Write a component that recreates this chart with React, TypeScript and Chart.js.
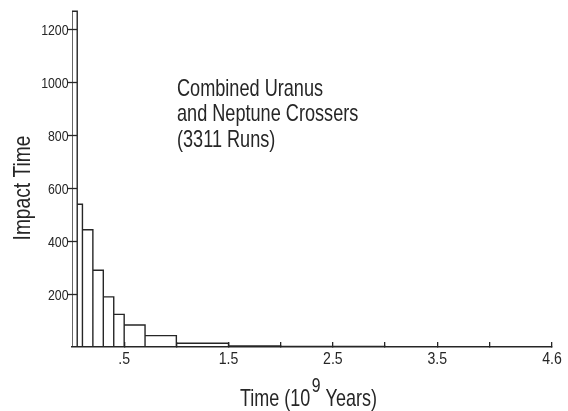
import React, { useEffect, useRef } from "react";
import { Chart, registerables } from "chart.js";

Chart.register(...registerables);

// Histogram bins (10^9 years) and heights
const binEdges = [0, 0.05, 0.1, 0.2, 0.3, 0.4, 0.5, 0.7, 1.0, 1.5, 2.0, 3.0, 4.0, 4.6];
const binCounts = [1265, 538, 442, 289, 189, 123, 83, 43, 14, 4, 2, 1, 1];

const xTickValues = [0.5, 1.0, 1.5, 2.0, 2.5, 3.0, 3.5, 4.0, 4.6];
const xLabelValues = [0.5, 1.5, 2.5, 3.5, 4.6];
const xLabelText = [".5", "1.5", "2.5", "3.5", "4.6"];
const yTickValues = [200, 400, 600, 800, 1000, 1200];

const annotationLines = ["Combined Uranus", "and Neptune Crossers", "(3311 Runs)"];
const yTitle = "Impact Time";
const xTitleParts = ["Time (10", "9", " Years)"];

const INK = "#262626";
const FONT = "'Liberation Sans', Arial, sans-serif";

function histogramPoints() {
  const pts: { x: number; y: number }[] = [];
  for (let i = 0; i < binCounts.length; i++) {
    const x0 = binEdges[i];
    const x1 = binEdges[i + 1];
    const c = binCounts[i];
    pts.push({ x: x0, y: 0 }, { x: x0, y: c }, { x: x1, y: c }, { x: x1, y: 0 });
  }
  return pts;
}

// draws horizontally condensed text (the original uses narrow lettering)
function narrowText(
  ctx: CanvasRenderingContext2D,
  text: string,
  x: number,
  y: number,
  size: number,
  sx: number,
  align: CanvasTextAlign = "left",
  rot = 0
) {
  ctx.save();
  ctx.translate(x, y);
  if (rot) ctx.rotate(rot);
  ctx.scale(sx, 1);
  ctx.font = `${size}px ${FONT}`;
  ctx.textAlign = align;
  ctx.textBaseline = "alphabetic";
  ctx.fillText(text, 0, 0);
  const w = ctx.measureText(text).width * sx;
  ctx.restore();
  return w;
}

const decorPlugin = {
  id: "decor",
  afterDraw(chart: any) {
    const ctx = chart.ctx as CanvasRenderingContext2D;
    const xs = chart.scales.x;
    const ys = chart.scales.y;
    const axisX = xs.getPixelForValue(0);
    const axisY = ys.getPixelForValue(0);
    ctx.save();
    ctx.strokeStyle = INK;
    ctx.fillStyle = INK;
    ctx.lineWidth = 1.3;
    // y tick marks crossing the axis + labels
    for (const v of yTickValues) {
      const py = Math.round(ys.getPixelForValue(v)) + 0.5;
      ctx.beginPath();
      ctx.moveTo(axisX - 4, py);
      ctx.lineTo(axisX + 5, py);
      ctx.stroke();
      narrowText(ctx, String(v), axisX - 3.5, py + 5.5, 15, 0.82, "right");
    }
    // x tick labels
    xLabelValues.forEach((v, i) => {
      const px = xs.getPixelForValue(v);
      narrowText(ctx, xLabelText[i], px, axisY + 17, 16, 0.88, "center");
    });
    // annotation block
    const baselines = [96, 121, 147];
    annotationLines.forEach((t, i) => narrowText(ctx, t, 177, baselines[i], 24, 0.755));
    // y title
    narrowText(ctx, yTitle, 30, 188, 24, 0.8, "center", -Math.PI / 2);
    // x title with superscript
    let x = 240;
    x += narrowText(ctx, xTitleParts[0], x, 406, 24, 0.75) + 1.5;
    x += narrowText(ctx, xTitleParts[1], x, 392, 21, 0.75) + 0;
    narrowText(ctx, xTitleParts[2], x, 406, 24, 0.75);
    ctx.restore();
  },
};

export default function App() {
  const ref = useRef<HTMLCanvasElement | null>(null);
  useEffect(() => {
    if (!ref.current) return;
    const chart = new Chart(ref.current, {
      type: "line",
      data: {
        datasets: [
          {
            data: histogramPoints(),
            borderColor: INK,
            borderWidth: 1.4,
            pointRadius: 0,
            tension: 0,
            fill: false,
          },
        ],
      },
      options: {
        animation: false,
        responsive: false,
        events: [],
        layout: { padding: { top: 2, right: 16, left: 0, bottom: 0 } },
        plugins: { legend: { display: false }, tooltip: { enabled: false } },
        scales: {
          x: {
            type: "linear",
            min: 0,
            max: 4.6,
            afterBuildTicks: (s: any) => {
              s.ticks = xTickValues.map((v) => ({ value: v }));
            },
            afterFit: (s: any) => {
              s.height = 64;
            },
            ticks: { display: false, autoSkip: false, maxRotation: 0 },
            grid: {
              display: true,
              drawOnChartArea: false,
              drawTicks: true,
              tickLength: -5,
              color: INK,
              lineWidth: 1.3,
            },
            border: { display: true, color: INK, width: 1.4 },
          },
          y: {
            type: "linear",
            min: 0,
            max: 1300,
            afterBuildTicks: (s: any) => {
              s.ticks = yTickValues.map((v) => ({ value: v }));
            },
            afterFit: (s: any) => {
              s.width = 72;
            },
            ticks: { display: false },
            grid: { display: false, drawTicks: false },
            border: { display: false },
          },
        },
      },
      plugins: [decorPlugin],
    });
    return () => chart.destroy();
  }, []);
  return (
    <div style={{ position: "absolute", left: 0, top: 0, width: 568, height: 411, background: "#fff" }}>
      <canvas ref={ref} width={568} height={411} />
    </div>
  );
}
